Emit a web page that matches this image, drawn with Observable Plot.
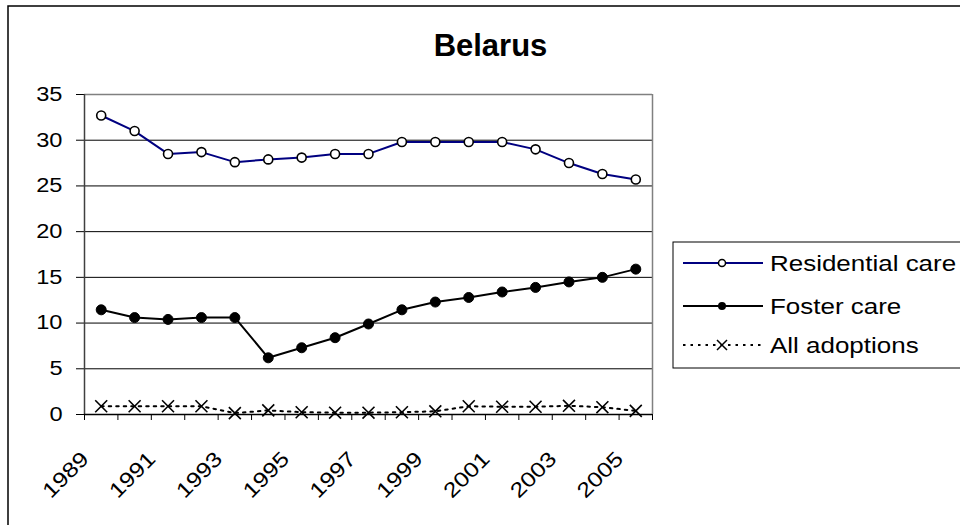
<!DOCTYPE html>
<html>
<head>
<meta charset="utf-8">
<script src="https://cdn.jsdelivr.net/npm/d3@7"></script>
<script src="https://cdn.jsdelivr.net/npm/@observablehq/plot@0.6"></script>
<style>
  html, body { margin: 0; padding: 0; background: #fff; }
  #wrap { position: relative; width: 960px; height: 525px; overflow: hidden; font-family: "Liberation Sans", Arial, sans-serif; }
  #wrap svg { position: absolute; left: 0; top: 0; }
</style>
</head>
<body>
<div id="wrap"></div>
<script>
const title = "Belarus";
const years = [1989,1990,1991,1992,1993,1994,1995,1996,1997,1998,1999,2000,2001,2002,2003,2004,2005];
const residential = [32.7,31.0,28.5,28.7,27.6,27.9,28.1,28.5,28.5,29.8,29.8,29.8,29.8,29.0,27.5,26.3,25.7];
const foster = [11.45,10.6,10.4,10.6,10.6,6.2,7.3,8.4,9.9,11.45,12.3,12.8,13.4,13.9,14.5,15.0,15.9];
const adoptions = [0.9,0.9,0.9,0.9,0.15,0.45,0.25,0.2,0.2,0.25,0.35,0.9,0.85,0.85,0.95,0.8,0.4];
const yTicks = [0,5,10,15,20,25,30,35];
const xLabels = [1989,1991,1993,1995,1997,1999,2001,2003,2005];
const seriesNames = ["Residential care","Foster care","All adoptions"];

const font = "Liberation Sans, Arial, sans-serif";
const stretch = 1.18;
const rows = (vals) => years.map((yr, i) => ({year: yr, value: vals[i]}));
const resData = rows(residential), fosData = rows(foster), adoData = rows(adoptions);
const boundaries = d3.range(years[0] - 0.5, years[years.length - 1] + 1, 1);

const chart = Plot.plot({
  width: 960, height: 525,
  marginLeft: 84, marginRight: 308, marginTop: 94, marginBottom: 111,
  x: {type: "linear", domain: [years[0] - 0.5, years[years.length - 1] + 0.5], axis: null},
  y: {domain: [0, 35], axis: null},
  style: {background: "transparent", fontFamily: font, color: "black", overflow: "visible"},
  marks: [
    Plot.ruleY(yTicks.filter(d => d > 0 && d < 35), {stroke: "black", strokeWidth: 1, strokeOpacity: 1}),
    Plot.ruleY([35], {stroke: "#808080", strokeWidth: 1.5, strokeOpacity: 1}),
    Plot.ruleX([boundaries[boundaries.length - 1]], {stroke: "#808080", strokeWidth: 1.5, strokeOpacity: 1}),
    Plot.axisY({ticks: yTicks, label: null, tickSize: 8, tickPadding: 14, fontSize: 20, tickFormat: d => d, stroke: "black", strokeOpacity: 1, fill: "black"}),
    Plot.axisX({ticks: boundaries, label: null, tickSize: 6, tickFormat: () => "", stroke: "black", strokeOpacity: 1}),
    Plot.ruleX([boundaries[0]], {stroke: "#404040", strokeWidth: 1.5, strokeOpacity: 1}),
    Plot.ruleY([0], {stroke: "black", strokeWidth: 1.5, strokeOpacity: 1}),
    Plot.text(xLabels, {x: d => d, y: 0, text: d => String(d), rotate: -45, textAnchor: "end", fontSize: 21, dx: -16, dy: 41, fill: "black"}),
    // All adoptions
    Plot.line(adoData, {x: "year", y: "value", stroke: "black", strokeWidth: 2, strokeDasharray: "2.5,5"}),
    Plot.dot(adoData, {x: "year", y: "value", symbol: "times", r: 5.5, stroke: "black", strokeWidth: 1.6}),
    // Foster
    Plot.line(fosData, {x: "year", y: "value", stroke: "black", strokeWidth: 2}),
    Plot.dot(fosData, {x: "year", y: "value", r: 5, fill: "black", stroke: "black", strokeWidth: 1}),
    // Residential
    Plot.line(resData, {x: "year", y: "value", stroke: "#000080", strokeWidth: 2}),
    Plot.dot(resData, {x: "year", y: "value", r: 4.5, fill: "white", stroke: "black", strokeWidth: 1.6})
  ]
});
const wrap = document.getElementById("wrap");
wrap.appendChild(chart);

function widen(sel, k) {
  sel.each(function() {
    const len = this.getComputedTextLength();
    if (len > 0) {
      this.setAttribute("textLength", (len * k).toFixed(2));
      this.setAttribute("lengthAdjust", "spacingAndGlyphs");
    }
  });
}
widen(d3.select(chart).selectAll("text"), stretch);

// Overlay: outer frame, title, legend
const ov = d3.select(wrap).append("svg").attr("width", 960).attr("height", 525)
  .style("font-family", font).style("pointer-events", "none");
ov.append("path").attr("d", "M8,530V6H965").attr("fill", "none").attr("stroke", "black").attr("stroke-width", 1.5);
ov.append("text").attr("x", 490.5).attr("y", 55.5).attr("text-anchor", "middle")
  .attr("font-size", 31).attr("font-weight", "bold").attr("fill", "black").text(title);

const lg = ov.append("g");
lg.append("rect").attr("x", 673).attr("y", 242).attr("width", 320).attr("height", 126)
  .attr("fill", "white").attr("stroke", "black").attr("stroke-width", 1);
const rowY = [263, 306, 345];
const styles = [
  {stroke: "#000080", dash: null, sym: "open"},
  {stroke: "black", dash: null, sym: "filled"},
  {stroke: "black", dash: "2.5,5", sym: "times"}
];
seriesNames.forEach((name, i) => {
  const y = rowY[i], s = styles[i];
  lg.append("line").attr("x1", 683).attr("x2", 763).attr("y1", y).attr("y2", y)
    .attr("stroke", s.stroke).attr("stroke-width", 1.8).attr("stroke-dasharray", s.dash);
  if (s.sym === "open") lg.append("circle").attr("cx", 722).attr("cy", y).attr("r", 3.5).attr("fill", "white").attr("stroke", "black").attr("stroke-width", 1.5);
  else if (s.sym === "filled") lg.append("circle").attr("cx", 722).attr("cy", y).attr("r", 4).attr("fill", "black");
  else lg.append("path").attr("d", `M${722-5},${y-5}L${722+5},${y+5}M${722-5},${y+5}L${722+5},${y-5}`).attr("stroke", "black").attr("stroke-width", 1.5);
  lg.append("text").attr("x", 770).attr("y", y).attr("dy", "0.35em").attr("font-size", 22).attr("fill", "black").text(name);
});
widen(lg.selectAll("text"), stretch);
</script>
</body>
</html>
